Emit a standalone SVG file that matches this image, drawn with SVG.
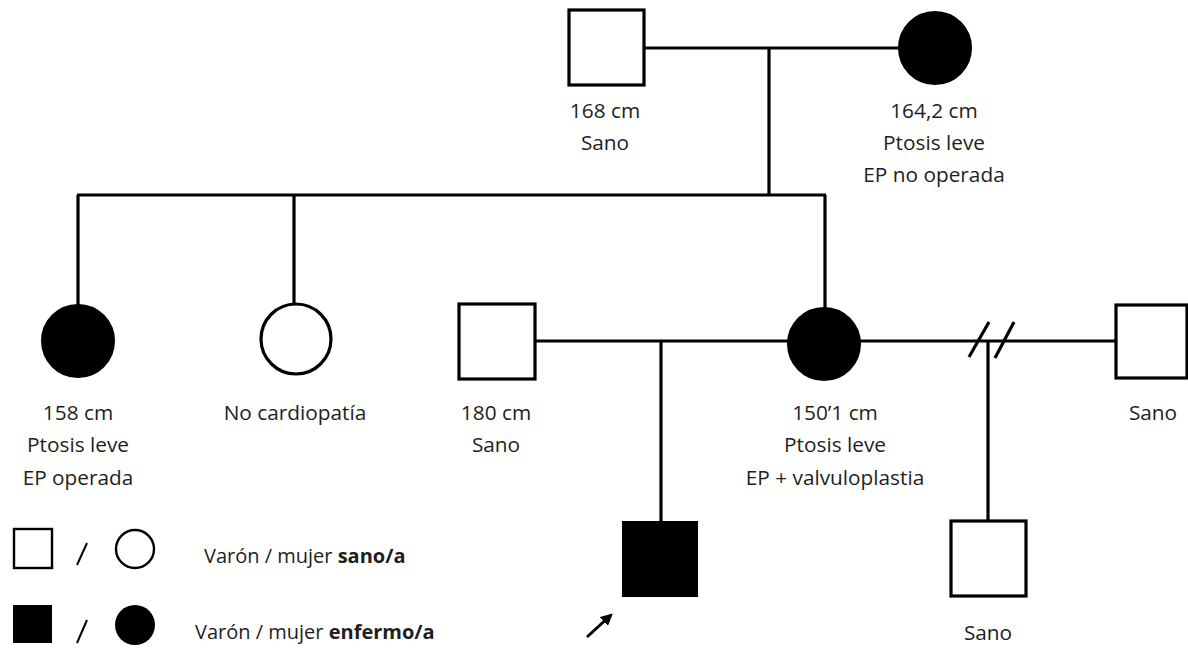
<svg xmlns="http://www.w3.org/2000/svg" width="1188" height="648" viewBox="0 0 1188 648">
<defs>
<marker id="ah" viewBox="0 0 10 10" refX="8" refY="5" markerWidth="4" markerHeight="4" orient="auto">
<path d="M0,0 L10,5 L0,10 Z" fill="#000"/>
</marker>
<style>
.ln{stroke:#000;stroke-width:3.2;fill:none}
.sh{stroke:#000;stroke-width:3.2;fill:#fff}
.af{fill:#000;stroke:#000;stroke-width:2}
.lg{stroke:#000;stroke-width:2.4;fill:#fff}
text{font-family:"Open Sans","Liberation Sans",sans-serif;font-size:20.8px;fill:#1e1e1e}
.leg{font-size:20px}
.c{text-anchor:middle}
.b{font-weight:bold}
</style>
</defs>
<rect width="1188" height="648" fill="#fff"/>
<g id="connectors">
<line class="ln" x1="644" y1="48" x2="900" y2="48"/>
<line class="ln" x1="769" y1="48" x2="769" y2="195"/>
<line class="ln" x1="77" y1="195" x2="826" y2="195"/>
<line class="ln" x1="78" y1="195" x2="78" y2="305"/>
<line class="ln" x1="294" y1="195" x2="294" y2="303"/>
<line class="ln" x1="825" y1="195" x2="825" y2="308"/>
<line class="ln" x1="536" y1="341" x2="790" y2="341"/>
<line class="ln" x1="661" y1="341" x2="661" y2="522"/>
<line class="ln" x1="860" y1="341" x2="1116" y2="341"/>
<line class="ln" x1="969" y1="357" x2="989" y2="322"/>
<line class="ln" x1="995" y1="358" x2="1014" y2="322"/>
<line class="ln" x1="988" y1="341" x2="988" y2="521"/>
<line x1="587" y1="637" x2="611" y2="615" stroke="#000" stroke-width="3" marker-end="url(#ah)"/>
</g>
<g id="grandfather">
<rect class="sh" x="569" y="10" width="75" height="75"/>
<text class="c" x="605" y="118">168 cm</text>
<text class="c" x="605" y="150">Sano</text>
</g>
<g id="grandmother">
<circle class="af" cx="935" cy="48" r="36"/>
<text class="c" x="934" y="118">164,2 cm</text>
<text class="c" x="934" y="150">Ptosis leve</text>
<text class="c" x="934" y="182">EP no operada</text>
</g>
<g id="aunt1">
<circle class="af" cx="78" cy="341" r="36"/>
<text class="c" x="78" y="420">158 cm</text>
<text class="c" x="78" y="452">Ptosis leve</text>
<text class="c" x="78" y="485">EP operada</text>
</g>
<g id="aunt2">
<circle class="sh" cx="296" cy="339" r="35"/>
<text class="c" x="295" y="420">No cardiopatía</text>
</g>
<g id="father">
<rect class="sh" x="459" y="304" width="76" height="75"/>
<text class="c" x="496" y="420">180 cm</text>
<text class="c" x="496" y="452">Sano</text>
</g>
<g id="mother">
<circle class="af" cx="824" cy="344" r="36"/>
<text class="c" x="835" y="420">150’1 cm</text>
<text class="c" x="835" y="452">Ptosis leve</text>
<text class="c" x="835" y="485">EP + valvuloplastia</text>
</g>
<g id="exhusband">
<rect class="sh" x="1116" y="305" width="71" height="73"/>
<text class="c" x="1153" y="420">Sano</text>
</g>
<g id="proband">
<rect class="af" x="623" y="522" width="74" height="74"/>
</g>
<g id="halfbrother">
<rect class="sh" x="951" y="521" width="75" height="75"/>
<text class="c" x="988" y="640">Sano</text>
</g>
<g id="legend">
<rect class="lg" x="14" y="529" width="38" height="39"/>
<line x1="77" y1="565" x2="87" y2="543" stroke="#000" stroke-width="2"/>
<circle class="lg" cx="135" cy="549" r="19"/>
<text class="leg" x="204" y="563">Varón / mujer <tspan class="b">sano/a</tspan></text>
<rect x="13" y="605" width="39" height="38" fill="#000"/>
<line x1="77" y1="643" x2="87" y2="620" stroke="#000" stroke-width="2"/>
<circle cx="135" cy="625" r="20" fill="#000"/>
<text class="leg" x="195" y="639">Varón / mujer <tspan class="b">enfermo/a</tspan></text>
</g>
</svg>
